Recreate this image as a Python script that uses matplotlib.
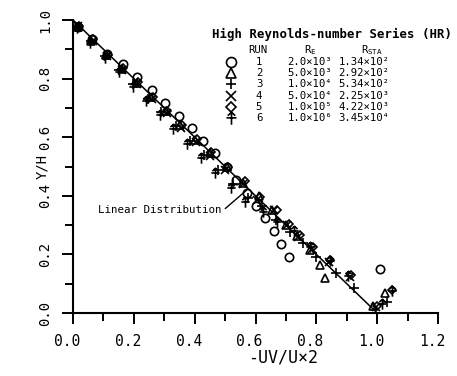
import numpy as np
import matplotlib
matplotlib.use("Agg")
import matplotlib.pyplot as plt
from matplotlib.path import Path
import matplotlib.transforms as mtransforms

plt.rcParams['font.family'] = ['DejaVu Sans Mono', 'DejaVu Sans']
plt.rcParams['mathtext.fontset'] = 'custom'
plt.rcParams['mathtext.rm'] = 'DejaVu Sans Mono'

# データ (-UV/U*2, Y/H) を図から読み取り
run1_x = [0.015, 0.062, 0.113, 0.163, 0.212, 0.260, 0.303, 0.350, 0.390, 0.429, 0.468, 0.507,
          0.536, 0.572, 0.603, 0.632, 0.660, 0.685, 0.709, 1.010]
run1_y = [0.977, 0.935, 0.885, 0.850, 0.804, 0.761, 0.718, 0.674, 0.630, 0.587, 0.545, 0.500,
          0.454, 0.410, 0.366, 0.323, 0.280, 0.234, 0.192, 0.150]

run2_x = [0.015, 0.060, 0.110, 0.160, 0.210, 0.258, 0.306, 0.352, 0.402, 0.450, 0.505, 0.560,
          0.610, 0.655, 0.700, 0.735, 0.779, 0.812, 0.829, 0.985, 1.026]
run2_y = [0.975, 0.930, 0.880, 0.832, 0.785, 0.737, 0.690, 0.640, 0.590, 0.545, 0.497, 0.445,
          0.400, 0.350, 0.300, 0.262, 0.215, 0.165, 0.118, 0.025, 0.067]

run3_x = [0.012, 0.058, 0.105, 0.152, 0.198, 0.245, 0.290, 0.338, 0.384, 0.430, 0.478, 0.525,
          0.575, 0.620, 0.668, 0.715, 0.755, 0.800, 0.864, 0.923, 1.032]
run3_y = [0.975, 0.928, 0.878, 0.828, 0.780, 0.732, 0.685, 0.637, 0.588, 0.538, 0.488, 0.440,
          0.392, 0.365, 0.318, 0.275, 0.240, 0.190, 0.135, 0.084, 0.036]

run4_x = [0.018, 0.065, 0.113, 0.162, 0.210, 0.260, 0.308, 0.355, 0.405, 0.452, 0.500, 0.560,
          0.605, 0.660, 0.705, 0.740, 0.785, 0.840, 0.910, 0.995]
run4_y = [0.978, 0.928, 0.878, 0.830, 0.780, 0.730, 0.683, 0.633, 0.585, 0.535, 0.487, 0.440,
          0.385, 0.350, 0.300, 0.260, 0.220, 0.175, 0.122, 0.020]

run5_x = [0.020, 0.066, 0.116, 0.166, 0.215, 0.262, 0.310, 0.358, 0.408, 0.455, 0.510, 0.565,
          0.615, 0.670, 0.710, 0.745, 0.790, 0.845, 0.915, 1.050, 1.000]
run5_y = [0.980, 0.935, 0.882, 0.835, 0.787, 0.738, 0.690, 0.642, 0.594, 0.548, 0.500, 0.450,
          0.395, 0.352, 0.305, 0.265, 0.225, 0.180, 0.128, 0.078, 0.025]

run6_x = [0.012, 0.056, 0.104, 0.150, 0.196, 0.240, 0.285, 0.330, 0.375, 0.420, 0.467, 0.518,
          0.565, 0.625, 0.672, 0.725, 0.780, 0.845, 0.905, 1.048, 1.015]
run6_y = [0.972, 0.922, 0.872, 0.822, 0.772, 0.725, 0.677, 0.628, 0.578, 0.528, 0.478, 0.428,
          0.380, 0.345, 0.310, 0.280, 0.225, 0.178, 0.127, 0.075, 0.030]

# 凡例の表
runs = ['1', '2', '3', '4', '5', '6']
re_vals = ['2.0×10³', '5.0×10³', '1.0×10⁴', '5.0×10⁴', '1.0×10⁵', '1.0×10⁶']
rsta_vals = ['1.34×10²', '2.92×10²', '5.34×10²', '2.25×10³', '4.22×10³', '3.45×10⁴']

# RUN 6 のマーカー（矢印付き＋）
arrow_plus = Path([(0, -1), (0, 1), (-0.8, 0.1), (0.8, 0.1), (-0.6, 0.45), (0, 1), (0.6, 0.45)],
                  [Path.MOVETO, Path.LINETO, Path.MOVETO, Path.LINETO,
                   Path.MOVETO, Path.LINETO, Path.LINETO])

series = [
    (run1_x, run1_y, 'o', 6),
    (run2_x, run2_y, '^', 5.5),
    (run3_x, run3_y, '+', 6.5),
    (run4_x, run4_y, 'x', 5.5),
    (run5_x, run5_y, 'D', 4.5),
    (run6_x, run6_y, arrow_plus, 7.5),
]

W, H = 457, 376
fig = plt.figure(figsize=(W / 100, H / 100), dpi=100)
ax = fig.add_axes([73 / W, 1 - 313 / H, 365 / W, 293 / H])


def fx(px):
    return px / W


def fy(py):
    return 1 - py / H


ax.plot([0, 1], [1, 0], color='black', lw=1.1, zorder=3)
for xs, ys, m, ms in series:
    ax.plot(xs, ys, linestyle='none', marker=m, ms=ms, mfc='none', mec='black',
            mew=1.2, zorder=4, clip_on=False)

ax.annotate('Linear Distribution', xy=(0.576, 0.424), xytext=(0.082, 0.352),
            textcoords='data', ha='left', va='center', fontsize=7.8,
            arrowprops=dict(arrowstyle='-', lw=1.0, color='black',
                            shrinkA=1, shrinkB=0, relpos=(1, 0.3)))

ax.set_xlim(0, 1.2)
ax.set_ylim(0, 1.0)
ax.set_xticks(np.arange(0, 1.21, 0.2))
ax.set_xticks(np.arange(0, 1.21, 0.1), minor=True)
ax.set_yticks(np.arange(0, 1.01, 0.2))
ax.set_yticks(np.arange(0, 1.01, 0.1), minor=True)
ax.set_xticklabels(['0.0', '0.2', '0.4', '0.6', '0.8', '1.0', '1.2'])
ax.set_yticklabels(['0.0', '0.2', '0.4', '0.6', '0.8', '1.0'])
for s in ['top', 'right']:
    ax.spines[s].set_visible(False)
for s in ['left', 'bottom']:
    ax.spines[s].set_linewidth(1.5)
ax.tick_params(which='major', direction='out', length=8, width=1.4, labelsize=10.5)
ax.tick_params(which='minor', direction='out', length=6, width=1.4)
ax.tick_params(axis='x', pad=7)
ax.tick_params(axis='y', pad=7, labelsize=10)
for lbl in ax.get_yticklabels():
    lbl.set_rotation(90)
    lbl.set_va('center')
shift = mtransforms.ScaledTranslation(-6 / 100, 0, fig.dpi_scale_trans)
for lbl in ax.get_xticklabels():
    lbl.set_transform(lbl.get_transform() + shift)

fig.text(fx(283), fy(358), '-UV/U×2', ha='center', va='center', fontsize=12)
fig.text(fx(42), fy(166), 'Y/H', ha='center', va='center', fontsize=10, rotation=90)

# 凡例
fig.text(fx(212), fy(34), 'High Reynolds-number Series (HR)', ha='left', va='center',
         fontsize=8.9, fontweight='bold')
fig.text(fx(258), fy(50), 'RUN', ha='center', va='center', fontsize=7.7)
fig.text(fx(310), fy(50), r'R$_\mathrm{E}$', ha='center', va='center', fontsize=7.7)
fig.text(fx(372), fy(50), r'R$_\mathrm{STA}$', ha='center', va='center', fontsize=7.7)
for i, (xs, ys, m, ms) in enumerate(series):
    yy = fy(62 + 11.2 * i)
    ax.plot([fx(231)], [yy], transform=fig.transFigure, marker=m, ms=ms * 1.2, mfc='none',
            mec='black', mew=1.2, linestyle='none', clip_on=False)
    fig.text(fx(259), yy, runs[i], ha='center', va='center', fontsize=7.7)
    fig.text(fx(310), yy, re_vals[i], ha='center', va='center', fontsize=7.7)
    fig.text(fx(364), yy, rsta_vals[i], ha='center', va='center', fontsize=7.7)

fig.savefig('out.png', dpi=100)
